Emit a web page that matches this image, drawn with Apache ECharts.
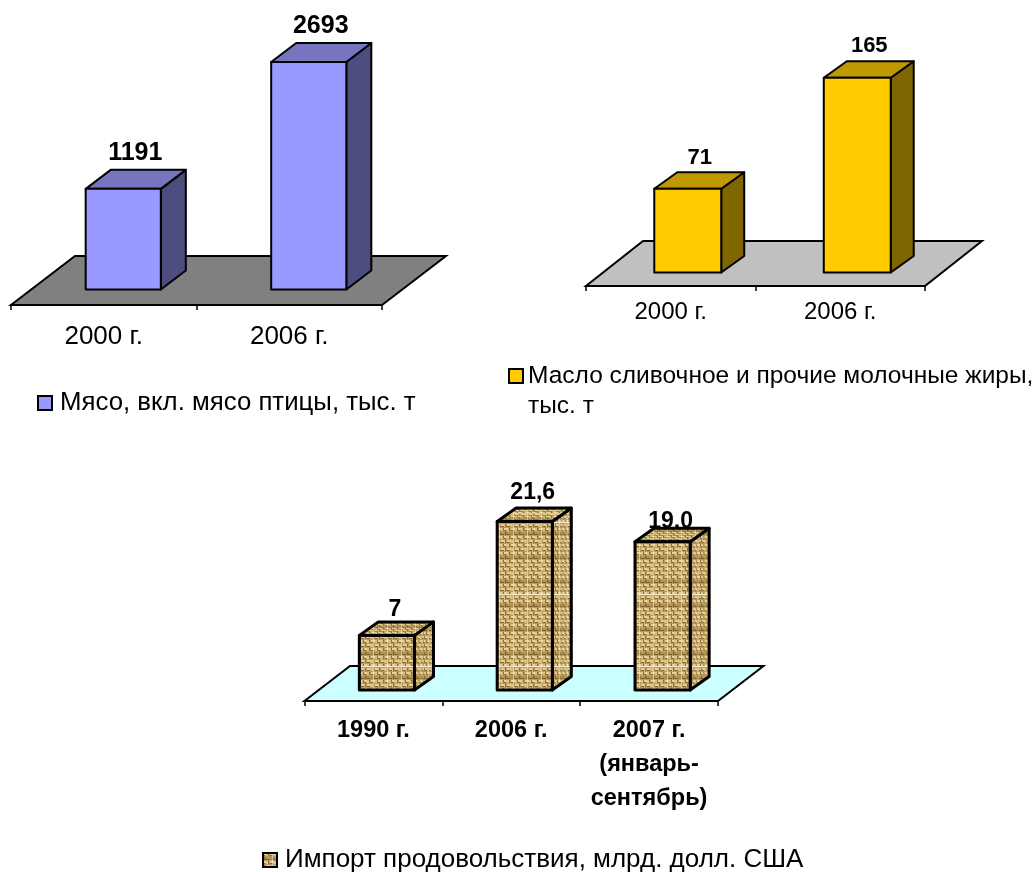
<!DOCTYPE html>
<html>
<head>
<meta charset="utf-8">
<title>Продовольствие</title>
<style>
  html, body { margin: 0; padding: 0; background: #fff; }
  #main { width: 1036px; height: 872px; }
</style>
<script src="https://cdn.jsdelivr.net/npm/echarts@6/dist/echarts.min.js"></script>
</head>
<body>
<div id="main"></div>
<script>
const meatName = 'Мясо, вкл. мясо птицы, тыс. т';
const meatYears = ['2000 г.', '2006 г.'];
const meatValues = [1191, 2693];
const meatLabels = ['1191', '2693'];

const butterName = 'Масло сливочное и прочие молочные жиры,\nтыс. т';
const butterYears = ['2000 г.', '2006 г.'];
const butterValues = [71, 165];
const butterLabels = ['71', '165'];

const importName = 'Импорт продовольствия, млрд. долл. США';
const importYears = ['1990 г.', '2006 г.', '2007 г.\n(январь-\nсентябрь)'];
const importValues = [7, 21.6, 19.0];
const importLabels = ['7', '21,6', '19,0'];

const FONT = '"Liberation Sans", Arial, sans-serif';

// burlap fill of the import bars, drawn once into a tile
function makeBurlap() {
  const c = document.createElement('canvas');
  c.width = 14;
  c.height = 72;
  const g = c.getContext('2d');
  g.fillStyle = '#b99a5c';
  g.fillRect(0, 0, 14, 72);
  for (let row = 0; row < 18; row++) {
    for (let col = 0; col < 4; col++) {
      const x = col * 4 - 1, y = row * 4;
      if ((row + col) % 2 === 0) {
        g.fillStyle = '#e6d098';
        g.fillRect(x, y, 4, 2);
        g.fillStyle = '#846630';
        g.fillRect(x, y + 2, 3, 1);
      } else {
        g.fillStyle = '#dcc283';
        g.fillRect(x, y, 2, 3);
        g.fillStyle = '#8c6e34';
        g.fillRect(x + 2, y, 1, 3);
      }
    }
  }
  // darker weft every 24px
  g.fillStyle = 'rgba(105,70,15,0.4)';
  [4, 28, 52].forEach(y => g.fillRect(0, y, 14, 3));
  // pale seams of the texture
  g.fillStyle = 'rgba(250,240,215,0.65)';
  g.fillRect(9, 0, 1, 72);
  g.fillStyle = '#f5ecd6';
  g.fillRect(0, 18, 14, 1);
  return c;
}
const burlap = makeBurlap();
const burlapFront = { image: burlap, repeat: 'repeat' };
const burlapSide = { image: burlap, repeat: 'repeat', scaleX: 0.55 };
const burlapTop = { image: burlap, repeat: 'repeat', scaleY: 0.5 };

const panels = [
  {
    name: meatName, cats: meatYears, values: meatValues, labels: meatLabels,
    left: 11, right: 382, axisY: 305, baseY: 289.5, pxPerUnit: 0.0845, top: 30,
    floor: '#808080', floorDx: 64, floorDy: 49,
    front: '#9999ff', topFace: '#7676bf', side: '#4d4d80', depthX: 25, depthY: 19,
    barRatio: 0.405, barShift: 19.5, lineW: 2,
    labelSize: 25, labelDx: 12, labelDy: [-35.5, -35.5],
    axisFont: 26, axisBold: false, axisMargin: 19,
    legend: { left: 37, top: 390, fontSize: 25.8, padLeft: 3 }
  },
  {
    name: butterName, cats: butterYears, values: butterValues, labels: butterLabels,
    left: 586, right: 925, axisY: 286, baseY: 272.5, pxPerUnit: 1.18, top: 30,
    floor: '#c0c0c0', floorDx: 57, floorDy: 45,
    front: '#ffcc00', topFace: '#bf9900', side: '#806600', depthX: 23, depthY: 16.5,
    barRatio: 0.395, barShift: 17, lineW: 2,
    labelSize: 22, labelDx: 12, labelDy: [-31, -32],
    axisFont: 24, axisBold: false, axisMargin: 14,
    // blank first line keeps the swatch level with the first text line
    legend: { left: 508, top: 331, fontSize: 24.5, padLeft: 0, lineHeight: 30, leadBlank: true }
  },
  {
    name: importName, cats: importYears, values: importValues, labels: importLabels,
    left: 304.5, right: 718, axisY: 701, baseY: 690, pxPerUnit: 7.8, top: 480,
    floor: '#ccffff', floorDx: 45.5, floorDy: 35,
    front: burlapFront, topFace: burlapTop, side: burlapSide, depthX: 19, depthY: 13.5,
    barRatio: 0.4, barShift: 13.5, lineW: 3,
    labelSize: 23, labelDx: 8, labelDy: [-26, -28.5, -20],
    axisFont: 23.5, axisBold: true, axisMargin: 13, axisLineHeight: 34,
    legend: { left: 262, top: 847, fontSize: 26, padLeft: 3 }
  }
];

function renderFloor(p) {
  return function (params) {
    const cs = params.coordSys;
    const y0 = cs.y + cs.height;
    return {
      type: 'polygon',
      shape: {
        points: [
          [cs.x, y0],
          [cs.x + cs.width, y0],
          [cs.x + cs.width + p.floorDx, y0 - p.floorDy],
          [cs.x + p.floorDx, y0 - p.floorDy]
        ]
      },
      style: { fill: p.floor, stroke: '#000', lineWidth: 2 }
    };
  };
}

function renderBar(p) {
  return function (params, api) {
    const i = api.value(0);
    const t = api.coord([i, api.value(1)]);
    const b = api.coord([i, 0]);
    const w = api.size([1, 0])[0] * p.barRatio;
    const cx = t[0] + p.barShift;
    const l = cx - w / 2, r = cx + w / 2;
    const dx = p.depthX, dy = p.depthY;
    const line = { stroke: '#000', lineWidth: p.lineW, lineJoin: 'round' };
    return {
      type: 'group',
      children: [
        {
          // label goes first, the 19,0 one sits behind the bar top in the source
          type: 'text',
          style: {
            text: p.labels[params.dataIndex],
            x: cx + p.labelDx,
            y: t[1] + p.labelDy[params.dataIndex],
            align: 'center',
            verticalAlign: 'middle',
            font: 'bold ' + p.labelSize + 'px ' + FONT,
            fill: '#000'
          }
        },
        {
          type: 'polygon',
          shape: { points: [[r, t[1]], [r + dx, t[1] - dy], [r + dx, b[1] - dy], [r, b[1]]] },
          style: Object.assign({ fill: p.side }, line)
        },
        {
          type: 'polygon',
          shape: { points: [[l, t[1]], [l + dx, t[1] - dy], [r + dx, t[1] - dy], [r, t[1]]] },
          style: Object.assign({ fill: p.topFace }, line)
        },
        {
          type: 'rect',
          shape: { x: l, y: t[1], width: w, height: b[1] - t[1] },
          style: Object.assign({ fill: p.front }, line)
        }
      ]
    };
  };
}

const grid = [], xAxis = [], yAxis = [], series = [], legend = [];
panels.forEach((p, n) => {
  grid.push({ left: p.left, top: p.top, width: p.right - p.left, height: p.axisY - p.top });
  xAxis.push({
    gridIndex: n,
    type: 'category',
    data: p.cats,
    axisLine: { onZero: false, lineStyle: { color: '#000', width: 2 } },
    axisTick: { show: true, length: 5, lineStyle: { color: '#000', width: 1.5 } },
    axisLabel: {
      interval: 0,
      margin: p.axisMargin,
      color: '#000',
      fontFamily: FONT,
      fontSize: p.axisFont,
      fontWeight: p.axisBold ? 'bold' : 'normal',
      lineHeight: p.axisLineHeight || p.axisFont
    }
  });
  const min = -(p.axisY - p.baseY) / p.pxPerUnit;
  yAxis.push({
    gridIndex: n,
    type: 'value',
    show: false,
    min: min,
    max: min + (p.axisY - p.top) / p.pxPerUnit,
    splitLine: { show: false }
  });
  series.push({
    type: 'custom',
    name: 'floor' + n,
    xAxisIndex: n,
    yAxisIndex: n,
    z: 1,
    silent: true,
    renderItem: renderFloor(p),
    data: [[0, 0]]
  });
  series.push({
    type: 'custom',
    name: p.name,
    xAxisIndex: n,
    yAxisIndex: n,
    z: 3,
    itemStyle: { color: p.front, borderColor: '#000', borderWidth: 2 },
    renderItem: renderBar(p),
    encode: { x: 0, y: 1 },
    data: p.values.map((v, i) => [i, v])
  });
  legend.push({
    data: [p.name],
    left: p.legend.left,
    top: p.legend.top,
    padding: 0,
    itemWidth: 14,
    itemHeight: 14,
    selectedMode: false,
    icon: 'rect',
    formatter: name => (p.legend.leadBlank ? '\n' : '') + name,
    textStyle: {
      color: '#000',
      fontFamily: FONT,
      fontSize: p.legend.fontSize,
      lineHeight: p.legend.lineHeight,
      padding: [0, 0, 0, p.legend.padLeft]
    }
  });
});

const chart = echarts.init(document.getElementById('main'), null, { renderer: 'canvas' });
chart.setOption({
  animation: false,
  backgroundColor: '#fff',
  grid, xAxis, yAxis, series, legend
});
</script>
</body>
</html>
